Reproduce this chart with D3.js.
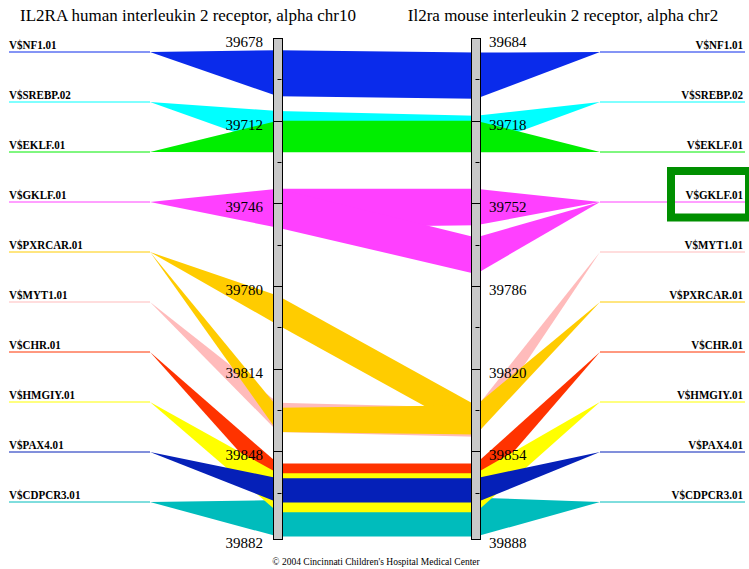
<!DOCTYPE html>
<html>
<head>
<meta charset="utf-8">
<script src="https://cdn.jsdelivr.net/npm/d3@7"></script>
<style>
html,body{margin:0;padding:0;background:#fff;}
svg{display:block;}
text{font-family:"Liberation Serif","Times New Roman",serif;}
</style>
</head>
<body>
<svg id="chart" width="749" height="569"></svg>
<script>
// ---------- data ----------
const titleLeft = "IL2RA human interleukin 2 receptor, alpha chr10";
const titleRight = "Il2ra mouse interleukin 2 receptor, alpha chr2";
const footer = "\u00a9 2004  Cincinnati Children's Hospital Medical Center";

const factors = ["V$NF1.01","V$SREBP.02","V$EKLF.01","V$GKLF.01","V$PXRCAR.01","V$MYT1.01","V$CHR.01","V$HMGIY.01","V$PAX4.01","V$CDPCR3.01"];
const factorColors = ["#0a2beb","#00ffff","#00ee00","#ff40ff","#ffcc00","#ffbbbb","#ff3300","#ffff00","#0520b8","#00bcbc"];

const leftLabels = ["V$NF1.01","V$SREBP.02","V$EKLF.01","V$GKLF.01","V$PXRCAR.01","V$MYT1.01","V$CHR.01","V$HMGIY.01","V$PAX4.01","V$CDPCR3.01"];
const rightLabels = ["V$NF1.01","V$SREBP.02","V$EKLF.01","V$GKLF.01","V$MYT1.01","V$PXRCAR.01","V$CHR.01","V$HMGIY.01","V$PAX4.01","V$CDPCR3.01"];
const drawOrder = ["V$NF1.01","V$SREBP.02","V$EKLF.01","V$GKLF.01","V$CDPCR3.01","V$MYT1.01","V$PXRCAR.01","V$CHR.01","V$HMGIY.01","V$PAX4.01"];

// human sites (left axis)
const humanFactor = ["V$NF1.01","V$SREBP.02","V$EKLF.01","V$GKLF.01","V$PXRCAR.01","V$PXRCAR.01","V$MYT1.01","V$CHR.01","V$HMGIY.01","V$PAX4.01","V$CDPCR3.01"];
const humanStart  = [39683, 39708, 39712, 39740, 39784, 39830, 39828, 39853, 39857, 39859, 39868];
const humanEnd    = [39702, 39723, 39725, 39756, 39796, 39840, 39840, 39866, 39873, 39869, 39883];

// mouse sites (right axis)
const mouseFactor = ["V$NF1.01","V$SREBP.02","V$EKLF.01","V$GKLF.01","V$GKLF.01","V$MYT1.01","V$PXRCAR.01","V$CHR.01","V$HMGIY.01","V$PAX4.01","V$CDPCR3.01"];
const mouseStart  = [39690, 39716, 39718, 39746, 39766, 39836, 39835, 39859, 39863, 39865, 39873];
const mouseEnd    = [39709, 39729, 39731, 39761, 39781, 39848, 39847, 39872, 39879, 39875, 39889];

// conserved links: human site index -> mouse site index
const linkHuman = [0, 1, 2, 3, 3, 4, 5, 6, 7, 8, 9, 10];
const linkMouse = [0, 1, 2, 3, 4, 6, 6, 5, 7, 8, 9, 10];

const leftTicks  = [39678, 39712, 39746, 39780, 39814, 39848, 39882];
const rightTicks = [39684, 39718, 39752, 39786, 39820, 39854, 39888];
const leftDomain  = [39678, 39884];
const rightDomain = [39684, 39890];

const highlighted = "V$GKLF.01";

// ---------- layout ----------
const svg = d3.select("#chart");
const yTop = 38, yBottom = 539;
const yL = d3.scaleLinear().domain(leftDomain).range([yTop, yBottom]);
const yR = d3.scaleLinear().domain(rightDomain).range([yTop, yBottom]);
const labL = d3.scalePoint().domain(leftLabels).range([52, 502]);
const labR = d3.scalePoint().domain(rightLabels).range([52, 502]);
const color = d3.scaleOrdinal().domain(factors).range(factorColors);

const lineL0 = 9, fanL = 150, barLX = 273, barW = 10, barRX = 471, fanR = 600, lineR1 = 745;
const axL = barLX + barW / 2, axR = barRX + barW / 2;
const condense = 0.85;

const g = svg.append("g");

drawOrder.forEach(f => {
  const c = color(f);
  humanFactor.forEach((hf, i) => {
    if (hf !== f) return;
    g.append("path")
      .attr("d", d3.line()([[fanL, labL(f)], [axL, yL(humanStart[i])], [axL, yL(humanEnd[i])]]) + "Z")
      .attr("fill", c);
  });
  linkHuman.forEach((h, k) => {
    if (humanFactor[h] !== f) return;
    const m = linkMouse[k];
    g.append("path")
      .attr("d", d3.line()([[axL, yL(humanStart[h])], [axR, yR(mouseStart[m])], [axR, yR(mouseEnd[m])], [axL, yL(humanEnd[h])]]) + "Z")
      .attr("fill", c);
  });
  mouseFactor.forEach((mf, i) => {
    if (mf !== f) return;
    g.append("path")
      .attr("d", d3.line()([[axR, yR(mouseStart[i])], [fanR, labR(f)], [axR, yR(mouseEnd[i])]]) + "Z")
      .attr("fill", c);
  });
});

leftLabels.forEach(f => {
  g.append("line").attr("x1", lineL0).attr("x2", fanL).attr("y1", labL(f)).attr("y2", labL(f))
    .attr("stroke", color(f)).attr("stroke-width", 1);
  g.append("text").attr("transform", `translate(${lineL0},${labL(f) - 3}) scale(${condense},1)`)
    .attr("font-size", 13).attr("font-weight", "bold").attr("fill", "#000").text(f);
});
rightLabels.forEach(f => {
  g.append("line").attr("x1", fanR).attr("x2", lineR1).attr("y1", labR(f)).attr("y2", labR(f))
    .attr("stroke", color(f)).attr("stroke-width", 1);
  g.append("text").attr("transform", `translate(${lineR1 - 2},${labR(f) - 3}) scale(${condense},1)`)
    .attr("text-anchor", "end")
    .attr("font-size", 13).attr("font-weight", "bold").attr("fill", "#000").text(f);
});

svg.append("rect")
  .attr("x", 671).attr("y", labR(highlighted) - 31).attr("width", 78).attr("height", 46.5)
  .attr("fill", "none").attr("stroke", "#008f00").attr("stroke-width", 8);

function drawAxis(x, scale, ticks, anchor, labelX) {
  const a = svg.append("g");
  a.append("rect").attr("x", x + 0.5).attr("y", yTop + 0.5).attr("width", barW - 1).attr("height", yBottom - yTop)
    .attr("fill", "#c8c8c8").attr("stroke", "#000").attr("stroke-width", 1);
  ticks.forEach((v, i) => {
    if (i > 0 && i < ticks.length - 1) {
      a.append("line").attr("x1", x).attr("x2", x + barW).attr("y1", Math.round(scale(v)) + 0.5).attr("y2", Math.round(scale(v)) + 0.5)
        .attr("stroke", "#000").attr("stroke-width", 1);
    }
    if (i < ticks.length - 1) {
      const mid = (v + ticks[i + 1]) / 2;
      a.append("line").attr("x1", x + 4.5).attr("x2", x + 8.5).attr("y1", Math.round(scale(mid)) + 0.5).attr("y2", Math.round(scale(mid)) + 0.5)
        .attr("stroke", "#000").attr("stroke-width", 1);
    }
    const ty = i === ticks.length - 1 ? scale.range()[1] : scale(v);
    a.append("text").attr("x", labelX).attr("y", ty + 9).attr("text-anchor", anchor)
      .attr("font-size", 15).attr("fill", "#000").text(v);
  });
}
drawAxis(barLX, yL, leftTicks, "end", 263);
drawAxis(barRX, yR, rightTicks, "start", 489);

svg.append("text").attr("x", 188).attr("y", 21).attr("text-anchor", "middle").attr("font-size", 17).text(titleLeft);
svg.append("text").attr("x", 563).attr("y", 21).attr("text-anchor", "middle").attr("font-size", 17).text(titleRight);
svg.append("text").attr("x", 376).attr("y", 565).attr("text-anchor", "middle").attr("font-size", 9.5).text(footer);
</script>
</body>
</html>
